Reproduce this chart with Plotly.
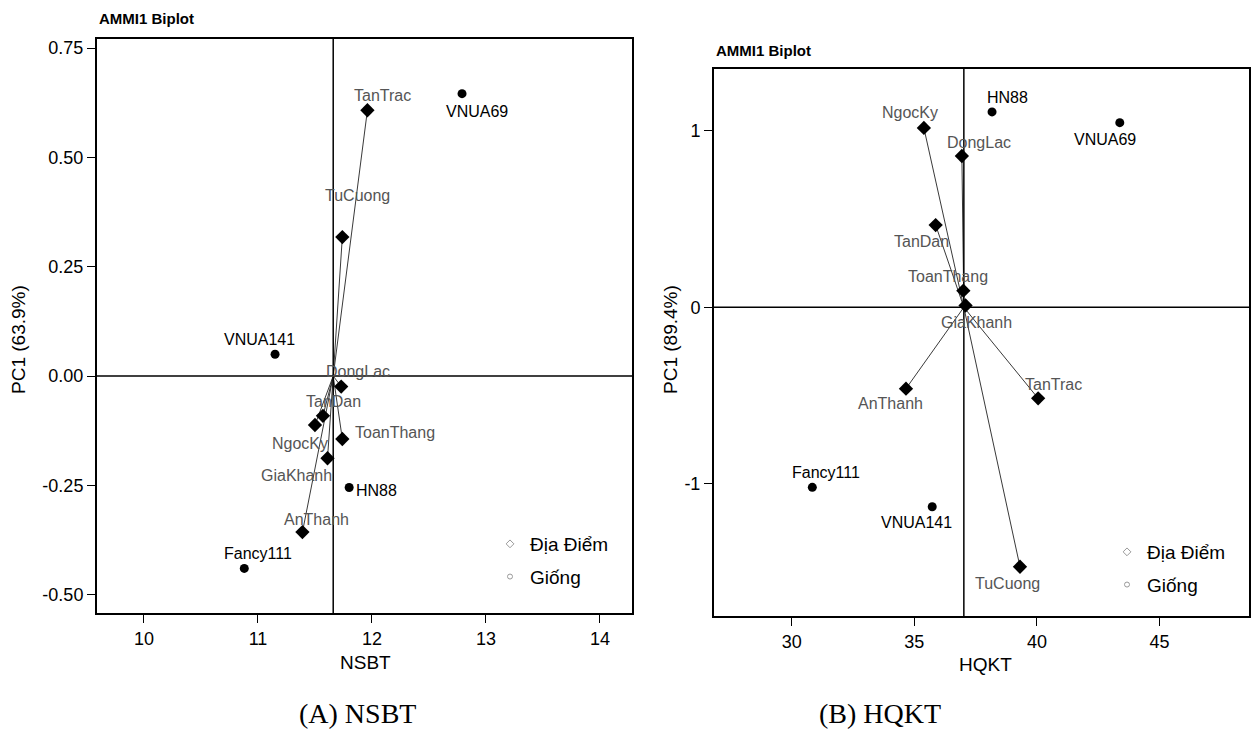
import plotly.graph_objects as go

# ---------------- Panel A : NSBT ----------------
env_names_a = ["TanTrac", "TuCuong", "DongLac", "TanDan", "NgocKy", "ToanThang", "GiaKhanh", "AnThanh"]
env_x_a = [11.96, 11.74, 11.73, 11.57, 11.50, 11.74, 11.61, 11.39]
env_y_a = [0.608, 0.318, -0.024, -0.091, -0.112, -0.144, -0.188, -0.357]
gen_names_a = ["VNUA69", "VNUA141", "HN88", "Fancy111"]
gen_x_a = [12.79, 11.15, 11.80, 10.88]
gen_y_a = [0.646, 0.050, -0.255, -0.440]
mean_a = 11.66
xticks_a = [10, 11, 12, 13, 14]
yticks_a = [-0.50, -0.25, 0.00, 0.25, 0.50, 0.75]
yticklabels_a = ["-0.50", "-0.25", "0.00", "0.25", "0.50", "0.75"]

# ---------------- Panel B : HQKT ----------------
env_names_b = ["NgocKy", "DongLac", "TanDan", "ToanThang", "GiaKhanh", "AnThanh", "TanTrac", "TuCuong"]
env_x_b = [35.39, 36.94, 35.87, 37.00, 37.09, 34.66, 40.05, 39.31]
env_y_b = [1.016, 0.857, 0.466, 0.094, 0.010, -0.461, -0.516, -1.47]
gen_names_b = ["HN88", "VNUA69", "Fancy111", "VNUA141"]
gen_x_b = [38.17, 43.38, 30.84, 35.73]
gen_y_b = [1.107, 1.046, -1.02, -1.13]
mean_b = 37.02
xticks_b = [30, 35, 40, 45]
yticks_b = [-1, 0, 1]
yticklabels_b = ["-1", "0", "1"]

# label offsets in screen pixels (dx right, dy up) -- styling only
off_env_a = {"TanTrac": (15, 15), "TuCuong": (15, 42), "DongLac": (17, 15), "TanDan": (11, 14),
             "NgocKy": (-15, -18), "ToanThang": (53, 7), "GiaKhanh": (-31, -17), "AnThanh": (14, 13)}
off_gen_a = {"VNUA69": (15, -18), "VNUA141": (-16, 15), "HN88": (27, -3), "Fancy111": (14, 15)}
off_env_b = {"NgocKy": (-14, 15), "DongLac": (17, 14), "TanDan": (-14, -16), "ToanThang": (-15, 14),
             "GiaKhanh": (11, -17), "AnThanh": (-15, -15), "TanTrac": (15, 14), "TuCuong": (-12, -17)}
off_gen_b = {"HN88": (15, 14), "VNUA69": (-15, -17), "Fancy111": (14, 15), "VNUA141": (-16, -16)}

W, H = 1255, 730
FONT = "Liberation Sans, Arial, sans-serif"
SERIF = "Liberation Serif, Times New Roman, serif"
ENV_COLOR = "#555555"

fig = go.Figure()


def add_panel(xa, ya, legend, env_n, env_x, env_y, gen_n, gen_x, gen_y, mean, off_env, off_gen):
    lx, ly = [], []
    for ex, ey in zip(env_x, env_y):
        lx += [mean, ex, None]
        ly += [0, ey, None]
    fig.add_trace(go.Scatter(x=lx, y=ly, mode="lines", xaxis=xa, yaxis=ya,
                             line=dict(color="#222222", width=0.9), showlegend=False, hoverinfo="skip"))
    fig.add_trace(go.Scatter(x=env_x, y=env_y, mode="markers", xaxis=xa, yaxis=ya,
                             marker=dict(symbol="diamond", size=11, color="black"),
                             showlegend=False, text=env_n))
    fig.add_trace(go.Scatter(x=gen_x, y=gen_y, mode="markers", xaxis=xa, yaxis=ya,
                             marker=dict(symbol="circle", size=9, color="black"),
                             showlegend=False, text=gen_n))
    # legend entries
    fig.add_trace(go.Scatter(x=[None], y=[None], mode="markers", xaxis=xa, yaxis=ya, name="Địa Điểm",
                             marker=dict(symbol="diamond-open", size=6, color="#999999"),
                             legend=legend, legendgroup=legend + "e"))
    fig.add_trace(go.Scatter(x=[None], y=[None], mode="markers", xaxis=xa, yaxis=ya, name="Giống",
                             marker=dict(symbol="circle-open", size=5, color="#999999"),
                             legend=legend, legendgroup=legend + "g"))
    for n, x, y in zip(env_n, env_x, env_y):
        dx, dy = off_env[n]
        fig.add_annotation(x=x, y=y, xref=xa, yref=ya, text=n, showarrow=False,
                           xshift=dx, yshift=dy, font=dict(family=FONT, size=16, color=ENV_COLOR))
    for n, x, y in zip(gen_n, gen_x, gen_y):
        dx, dy = off_gen[n]
        fig.add_annotation(x=x, y=y, xref=xa, yref=ya, text=n, showarrow=False,
                           xshift=dx, yshift=dy, font=dict(family=FONT, size=16, color="black"))
    fig.add_shape(type="line", xref=xa, yref=ya + " domain", x0=mean, x1=mean, y0=0, y1=1,
                  line=dict(color="black", width=1.5))
    fig.add_shape(type="line", xref=xa + " domain", yref=ya, x0=0, x1=1, y0=0, y1=0,
                  line=dict(color="black", width=1.5))


add_panel("x", "y", "legend", env_names_a, env_x_a, env_y_a, gen_names_a, gen_x_a, gen_y_a,
          mean_a, off_env_a, off_gen_a)
add_panel("x2", "y2", "legend2", env_names_b, env_x_b, env_y_b, gen_names_b, gen_x_b, gen_y_b,
          mean_b, off_env_b, off_gen_b)

axis_common = dict(showline=True, mirror=True, linecolor="black", linewidth=2, ticks="outside",
                   ticklen=8, tickwidth=1.2, tickcolor="black", showgrid=False, zeroline=False,
                   tickfont=dict(family=FONT, size=18, color="black"))


def px(x):
    return x / W


def py(y):
    return 1 - y / H


fig.update_layout(
    width=W, height=H, margin=dict(l=0, r=0, t=0, b=0),
    paper_bgcolor="white", plot_bgcolor="white", font=dict(family=FONT, color="black"),
    xaxis=dict(domain=[px(97), px(632)], range=[9.588, 14.281], tickvals=xticks_a, anchor="y", **axis_common),
    yaxis=dict(domain=[py(613), py(39)], range=[-0.542, 0.771], tickvals=yticks_a, ticktext=yticklabels_a,
               anchor="x", **axis_common),
    xaxis2=dict(domain=[px(714), px(1249)], range=[26.83, 48.65], tickvals=xticks_b, anchor="y2", **axis_common),
    yaxis2=dict(domain=[py(616), py(69)], range=[-1.749, 1.35], tickvals=yticks_b, ticktext=yticklabels_b,
                anchor="x2", **axis_common),
    legend=dict(x=px(490), y=py(525), xanchor="left", yanchor="top", bgcolor="rgba(0,0,0,0)",
                font=dict(family=FONT, size=19), tracegroupgap=5),
    legend2=dict(x=px(1107), y=py(533), xanchor="left", yanchor="top", bgcolor="rgba(0,0,0,0)",
                 font=dict(family=FONT, size=19), tracegroupgap=5),
    showlegend=True,
)

texts = [
    ("<b>AMMI1 Biplot</b>", 97, 19, "left", 15, FONT, 0),
    ("<b>AMMI1 Biplot</b>", 714, 50, "left", 15, FONT, 0),
    ("PC1 (63.9%)", 18, 340, "center", 19, FONT, -90),
    ("PC1 (89.4%)", 670, 340, "center", 19, FONT, -90),
    ("NSBT", 365, 662, "center", 19, FONT, 0),
    ("HQKT", 985, 664, "center", 19, FONT, 0),
    ("(A) NSBT", 357, 713, "center", 28, SERIF, 0),
    ("(B) HQKT", 880, 713, "center", 28, SERIF, 0),
]
for t, x, y, anc, size, fam, ang in texts:
    fig.add_annotation(x=px(x), y=py(y), xref="paper", yref="paper", text=t, showarrow=False,
                       xanchor=anc, yanchor="middle", textangle=ang,
                       font=dict(family=fam, size=size, color="black"))

fig.write_html("out.html")
